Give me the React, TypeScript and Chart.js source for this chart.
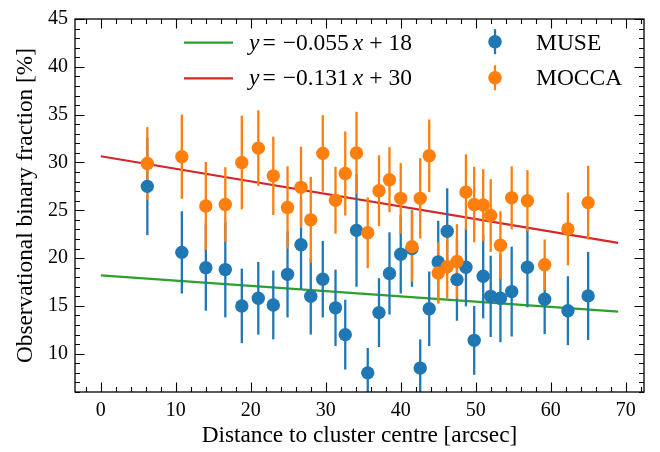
import React, { useEffect, useRef } from 'react';
import { Chart, registerables } from 'chart.js';

Chart.register(...registerables);

// ---- data ----
const distance = [6.2, 10.8, 14.0, 16.6, 18.8, 21.0, 23.0, 24.9, 26.7, 28.0, 29.6, 31.3, 32.6, 34.1, 35.6, 37.1, 38.5, 40.0, 41.5, 42.6, 43.8, 45.0, 46.2, 47.5, 48.7, 49.8, 51.0, 52.0, 53.3, 54.8, 56.9, 59.2, 62.3, 65.0];
const museFraction = [27.5, 20.6, 19.0, 18.8, 15.0, 15.8, 15.1, 18.3, 21.4, 16.0, 17.8, 14.8, 12.0, 22.9, 8.0, 14.3, 18.4, 20.4, 21.0, 8.5, 14.7, 19.6, 22.8, 17.75, 19.05, 11.4, 18.1, 16.0, 15.8, 16.5, 19.05, 15.7, 14.5, 16.05];
const museError = [5.1, 4.3, 4.5, 5.0, 3.9, 3.8, 3.6, 4.5, 4.7, 4.0, 4.0, 4.0, 3.65, 5.9, 2.6, 3.6, 4.3, 4.1, 4.0, 3.0, 3.9, 4.3, 4.5, 4.3, 4.1, 3.6, 4.4, 4.25, 4.6, 4.7, 4.2, 3.65, 3.6, 4.6];
const moccaFraction = [29.9, 30.6, 25.45, 25.6, 30.0, 31.5, 28.6, 25.3, 27.4, 24.0, 30.95, 26.05, 28.85, 31.0, 22.65, 27.05, 28.2, 26.25, 21.2, 26.25, 30.7, 18.45, 19.1, 19.65, 26.9, 25.6, 25.55, 24.45, 21.35, 26.3, 26.0, 19.3, 23.05, 25.8];
const moccaError = [3.8, 4.4, 4.6, 3.9, 4.9, 3.95, 4.1, 4.3, 4.25, 4.5, 4.0, 3.5, 4.4, 4.3, 3.7, 3.7, 3.4, 3.7, 3.7, 4.2, 3.8, 3.2, 3.3, 3.9, 3.95, 3.95, 3.75, 3.8, 3.55, 3.3, 3.2, 2.65, 3.8, 3.85];
const fitX = [0, 69];
const museFitY = [18.2, 14.4];
const moccaFitY = [30.65, 21.6];
const xTicks = [0, 10, 20, 30, 40, 50, 60, 70];
const yTicks = [10, 15, 20, 25, 30, 35, 40, 45];
const xLabel = 'Distance to cluster centre [arcsec]';
const yLabel = 'Observational binary fraction [%]';
const museFitLabel: [string, boolean][] = [['y', true], ['=', false], ['\u22120.055', false], ['x', true], ['+', false], ['18', false]];
const moccaFitLabel: [string, boolean][] = [['y', true], ['=', false], ['\u22120.131', false], ['x', true], ['+', false], ['30', false]];
const seriesNames = ['MUSE', 'MOCCA'];

const SERIF = '"Liberation Serif", "Times New Roman", serif';
const BLUE = '#1f77b4';
const ORANGE = '#ff7f0e';
const GREEN = '#2ca02c';
const RED = '#d62728';

Chart.defaults.font.family = SERIF;
Chart.defaults.color = '#000';

const errorBarPlugin = {
  id: 'errorBars',
  beforeDatasetDraw(chart: any, args: any) {
    if (args.index !== 2) return;
    const { ctx, chartArea, scales } = chart;
    const x = scales.x;
    const y = scales.y;
    ctx.save();
    ctx.beginPath();
    ctx.rect(chartArea.left, chartArea.top, chartArea.right - chartArea.left, chartArea.bottom - chartArea.top);
    ctx.clip();
    ctx.lineWidth = 2.3;
    const sets: [number[], number[], string][] = [
      [museFraction, museError, BLUE],
      [moccaFraction, moccaError, ORANGE],
    ];
    sets.forEach(([vals, errs, col]) => {
      ctx.strokeStyle = col;
      distance.forEach((d, i) => {
        const px = x.getPixelForValue(d);
        ctx.beginPath();
        ctx.moveTo(px, y.getPixelForValue(vals[i] - errs[i]));
        ctx.lineTo(px, y.getPixelForValue(vals[i] + errs[i]));
        ctx.stroke();
      });
    });
    ctx.restore();
  },
};

const framePlugin = {
  id: 'frame',
  afterDatasetsDraw(chart: any) {
    const { ctx, chartArea, scales } = chart;
    const { left, right, top, bottom } = chartArea;
    const x = scales.x;
    const y = scales.y;
    ctx.save();
    ctx.strokeStyle = '#000';
    ctx.lineWidth = 1.3;
    ctx.strokeRect(left, top, right - left, bottom - top);
    ctx.lineWidth = 1.1;
    const major = 9.5;
    const minor = 5;
    ctx.beginPath();
    for (let v = Math.ceil(x.min); v <= x.max; v++) {
      if (v % 2 !== 0) continue;
      const len = v % 10 === 0 ? major : minor;
      const px = Math.round(x.getPixelForValue(v)) + 0.5;
      ctx.moveTo(px, bottom);
      ctx.lineTo(px, bottom - len);
      ctx.moveTo(px, top);
      ctx.lineTo(px, top + len);
    }
    for (let v = Math.ceil(y.min); v <= y.max; v++) {
      const len = v % 5 === 0 ? major : minor;
      const py = Math.round(y.getPixelForValue(v)) + 0.5;
      ctx.moveTo(left, py);
      ctx.lineTo(left + len, py);
      ctx.moveTo(right, py);
      ctx.lineTo(right - len, py);
    }
    ctx.stroke();
    ctx.restore();
  },
};

function drawMath(ctx: CanvasRenderingContext2D, parts: [string, boolean][], x0: number, baseline: number) {
  const gaps = [0, 3, 7, 4, 6, 6];
  let cx = x0;
  parts.forEach(([t, it], i) => {
    cx += gaps[i];
    ctx.font = `${it ? 'italic ' : ''}23.5px ${SERIF}`;
    ctx.fillText(t, cx, baseline);
    cx += ctx.measureText(t).width;
  });
}

const legendPlugin = {
  id: 'customLegend',
  afterDraw(chart: any) {
    const ctx: CanvasRenderingContext2D = chart.ctx;
    ctx.save();
    ctx.textBaseline = 'alphabetic';
    ctx.textAlign = 'left';
    ctx.fillStyle = '#000';
    const rows = [42.7, 78.3];
    const bases = [49.5, 85];
    [[GREEN, museFitLabel], [RED, moccaFitLabel]].forEach(([col, parts]: any, i) => {
      ctx.strokeStyle = col;
      ctx.lineWidth = 2.2;
      ctx.beginPath();
      ctx.moveTo(184, rows[i]);
      ctx.lineTo(233, rows[i]);
      ctx.stroke();
      ctx.fillStyle = '#000';
      drawMath(ctx, parts, 249, bases[i]);
    });
    const mrows = [41.7, 77.7];
    [BLUE, ORANGE].forEach((col, i) => {
      ctx.strokeStyle = col;
      ctx.fillStyle = col;
      ctx.lineWidth = 2.3;
      ctx.beginPath();
      ctx.moveTo(495, mrows[i] - 12.5);
      ctx.lineTo(495, mrows[i] + 12.5);
      ctx.stroke();
      ctx.beginPath();
      ctx.arc(495, mrows[i], 6.8, 0, Math.PI * 2);
      ctx.fill();
      ctx.fillStyle = '#000';
      ctx.font = `23.5px ${SERIF}`;
      ctx.fillText(seriesNames[i], 536, bases[i]);
    });
    ctx.restore();
  },
};

export default function App() {
  const ref = useRef<HTMLCanvasElement | null>(null);
  useEffect(() => {
    if (!ref.current) return;
    const chart = new Chart(ref.current, {
      type: 'scatter',
      data: {
        datasets: [
          {
            type: 'line',
            label: 'fit MUSE',
            data: fitX.map((v, i) => ({ x: v, y: museFitY[i] })),
            borderColor: GREEN,
            borderWidth: 2.2,
            pointRadius: 0,
            showLine: true,
            fill: false,
            order: 3,
          } as any,
          {
            type: 'line',
            label: 'fit MOCCA',
            data: fitX.map((v, i) => ({ x: v, y: moccaFitY[i] })),
            borderColor: RED,
            borderWidth: 2.2,
            pointRadius: 0,
            showLine: true,
            fill: false,
            order: 3,
          } as any,
          {
            label: seriesNames[0],
            data: distance.map((d, i) => ({ x: d, y: museFraction[i] })),
            backgroundColor: BLUE,
            borderColor: BLUE,
            borderWidth: 0,
            pointRadius: 6.7,
            pointHoverRadius: 6.7,
            order: 2,
          },
          {
            label: seriesNames[1],
            data: distance.map((d, i) => ({ x: d, y: moccaFraction[i] })),
            backgroundColor: ORANGE,
            borderColor: ORANGE,
            borderWidth: 0,
            pointRadius: 6.7,
            pointHoverRadius: 6.7,
            order: 1,
          },
        ],
      },
      options: {
        responsive: false,
        animation: false,
        devicePixelRatio: 1,
        events: [],
        layout: { padding: { left: 0, top: 12, right: 16, bottom: 0 } },
        plugins: { legend: { display: false }, tooltip: { enabled: false } },
        scales: {
          x: {
            type: 'linear',
            min: -3.45,
            max: 72.45,
            grid: { display: false, drawTicks: false },
            border: { display: false },
            afterBuildTicks: (s: any) => {
              s.ticks = xTicks.map((v) => ({ value: v }));
            },
            afterFit: (s: any) => {
              s.height = 60;
            },
            ticks: {
              font: { family: SERIF, size: 20 },
              color: '#000',
              padding: 7,
              maxRotation: 0,
              autoSkip: false,
            },
            title: {
              display: true,
              text: xLabel,
              font: { family: SERIF, size: 23.3 },
              color: '#000',
              padding: { top: 0, bottom: 2 },
            },
          },
          y: {
            type: 'linear',
            min: 6,
            max: 45,
            grid: { display: false, drawTicks: false },
            border: { display: false },
            afterBuildTicks: (s: any) => {
              s.ticks = yTicks.map((v) => ({ value: v }));
            },
            afterFit: (s: any) => {
              s.width = 75;
            },
            ticks: {
              font: { family: SERIF, size: 20 },
              color: '#000',
              padding: 7,
              autoSkip: false,
            },
            title: {
              display: true,
              text: yLabel,
              font: { family: SERIF, size: 23.3 },
              color: '#000',
              padding: { top: 12, bottom: 0 },
            },
          },
        },
      },
      plugins: [errorBarPlugin, framePlugin, legendPlugin],
    } as any);
    return () => chart.destroy();
  }, []);
  return (
    <div style={{ position: 'fixed', left: 0, top: 0, width: 660, height: 452, background: '#fff' }}>
      <canvas ref={ref} width={660} height={452} style={{ display: 'block' }} />
    </div>
  );
}
